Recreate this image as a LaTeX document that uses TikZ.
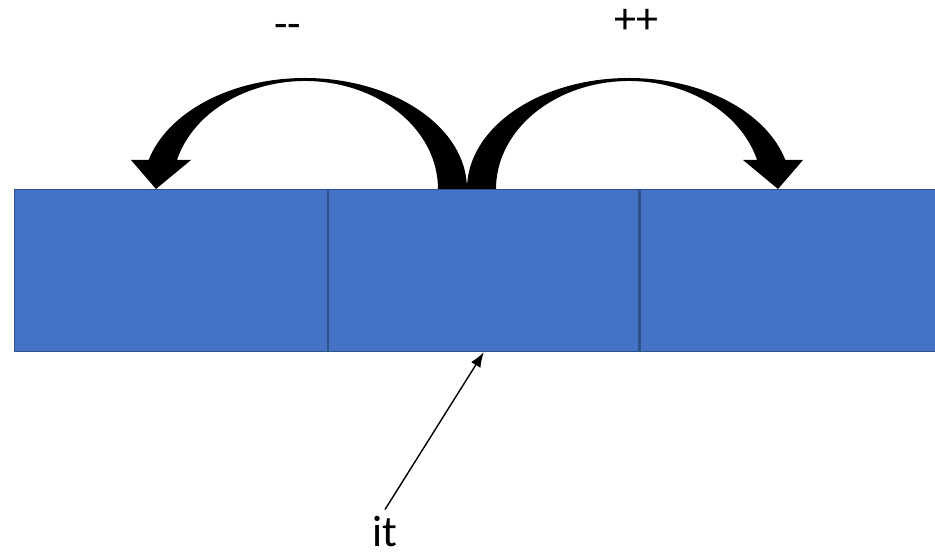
\documentclass[tikz,border=0pt]{standalone}
\usepackage{fontspec}
\setmainfont{Carlito}
\usetikzlibrary{arrows.meta}
\definecolor{cellblue}{HTML}{4472C4}
\definecolor{celledge}{HTML}{2F528F}
\tikzset{
    cell/.style={draw=celledge, fill=cellblue, line width=1.2pt,
        minimum height=162pt, inner sep=0pt, anchor=north west},
    lab/.style={font=\fontsize{44}{52}\selectfont, anchor=base},
}
\begin{document}
\begin{tikzpicture}[x=1pt, y=1pt, >={Latex[length=15pt, width=11pt]}]
    \useasboundingbox (0,0) rectangle (935,557);
    % Các ô nhớ
    \node[cell, minimum width=313pt] (cellprev) at (14,368) {};
    \node[cell, minimum width=310pt] (cellit) at (cellprev.north east) {};
    \node[cell, minimum width=300pt] (cellnext) at (cellit.north east) {};
    
    % Mũi tên cong: lùi (--) và tiến (++)
    \fill (467,368) arc[start angle=0, end angle=164.85, x radius=162, y radius=111]
        -- (131,397) -- (156,368) -- (191,397)
        -- ([shift={(305,368)}]164.42:133 and 108)
        arc[start angle=164.42, end angle=0, x radius=133, y radius=108] -- cycle;
    \fill (467,368) arc[start angle=180, end angle=15.15, x radius=162, y radius=111]
        -- (803,397) -- (778,368) -- (743,397)
        -- ([shift={(629,368)}]15.58:133 and 108)
        arc[start angle=15.58, end angle=180, x radius=133, y radius=108] -- cycle;
    
    % Nhãn
    \node[lab] (labdec) at (287.5,518) {-{}-};
    \node[lab] (labinc) at (636.5,523) {++};
    \node[lab, inner sep=1pt] (labit) at (385,10) {it};
    \draw[->, line width=1.4pt] ([yshift=6pt]labit.north) -- (cellit.south);
\end{tikzpicture}
\end{document}
